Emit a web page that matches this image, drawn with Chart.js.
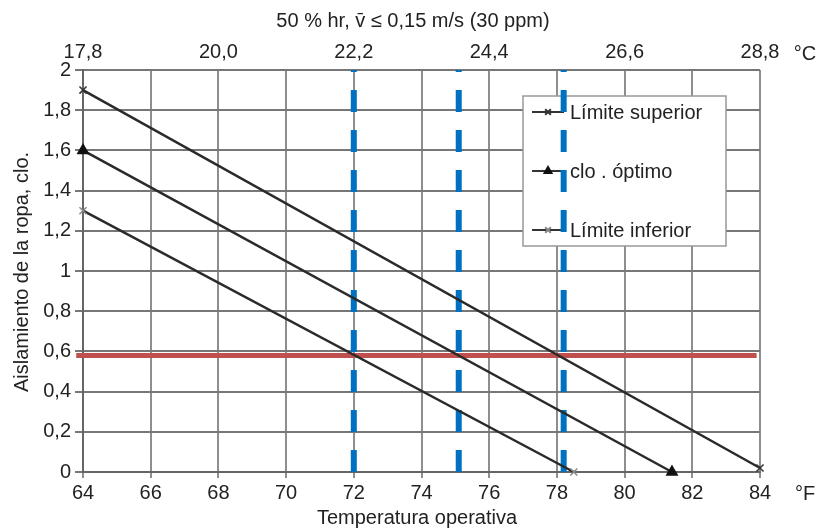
<!DOCTYPE html>
<html>
<head>
<meta charset="utf-8">
<script src="https://cdn.jsdelivr.net/npm/chart.js@4.4.1/dist/chart.umd.min.js"></script>
<style>
html, body { margin: 0; padding: 0; background: #fff; }
#wrap { width: 819px; height: 529px; }
</style>
</head>
<body>
<div id="wrap"><canvas id="c" width="819" height="529"></canvas></div>
<script>
// bottom axis (°F) and top axis (°C)
const fTicks = [64, 66, 68, 70, 72, 74, 76, 78, 80, 82, 84];
const cTickPos = [64, 68, 72, 76, 80, 84];
const cTickLabels = ['17,8', '20,0', '22,2', '24,4', '26,6', '28,8'];
const yTickLabels = ['0', '0,2', '0,4', '0,6', '0,8', '1', '1,2', '1,4', '1,6', '1,8', '2'];

// series
const supX = [64, 84],   supY = [1.9, 0.02];
const optX = [64, 81.4], optY = [1.6, 0];
const infX = [64, 78.5], infY = [1.3, 0];

// reference lines
const refClo = 0.58;
const refX = [63.8, 83.9];
const cutX = [72, 75.1, 78.2];
const cutY = [0, 2];

const FONT = "'Liberation Sans', Arial, sans-serif";
const TXT = '#222';

const pts = (xs, ys) => xs.map((x, i) => ({ x: x, y: ys[i] }));

const legendItems = [
    { label: 'Límite superior', style: 'crossRot', color: '#333' },
    { label: 'clo . óptimo', style: 'triangle', color: '#111' },
    { label: 'Límite inferior', style: 'crossRot', color: '#888' }
];

const boxLegend = {
    id: 'boxLegend',
    beforeDatasetsDraw(chart) {
        const ctx = chart.ctx;
        ctx.save();
        ctx.fillStyle = '#fff';
        ctx.fillRect(523, 96, 203, 150);
        ctx.strokeStyle = '#999';
        ctx.lineWidth = 1.5;
        ctx.strokeRect(523, 96, 203, 150);
        legendItems.forEach((it, i) => {
            const y = 112 + i * 59;
            ctx.strokeStyle = '#333';
            ctx.lineWidth = 2;
            ctx.beginPath();
            ctx.moveTo(532, y);
            ctx.lineTo(564, y);
            ctx.stroke();
            ctx.strokeStyle = it.color;
            ctx.fillStyle = it.color;
            Chart.helpers.drawPoint(ctx, { pointStyle: it.style, radius: 4, borderWidth: 1.5, rotation: 0 }, 548, y);
            ctx.fillStyle = TXT;
            ctx.font = '20px ' + FONT;
            ctx.textBaseline = 'middle';
            ctx.textAlign = 'left';
            ctx.fillText(it.label, 570, y + 1);
        });
        ctx.restore();
    }
};

const labels = {
    id: 'labels',
    afterDraw(chart) {
        const ctx = chart.ctx;
        ctx.save();
        ctx.fillStyle = TXT;
        ctx.font = '20px ' + FONT;
        ctx.textBaseline = 'middle';
        ctx.textAlign = 'center';
        ctx.fillText('50 % hr, v\u0304 \u2264 0,15 m/s (30 ppm)', 413, 21);
        ctx.fillText('Temperatura operativa', 417, 518);
        ctx.fillText('\u00B0C', 805, 54);
        ctx.fillText('\u00B0F', 805, 494);
        ctx.translate(22, 272);
        ctx.rotate(-Math.PI / 2);
        ctx.fillText('Aislamiento de la ropa, clo.', 0, 0);
        ctx.restore();
    }
};

new Chart(document.getElementById('c'), {
    type: 'line',
    data: {
        datasets: [
            { data: pts(supX, supY), borderColor: '#2a2a2a', borderWidth: 2.5, pointStyle: 'crossRot', pointRadius: 5, pointBorderColor: '#333', pointBorderWidth: 1.5, clip: false, order: 1 },
            { data: pts(optX, optY), borderColor: '#2a2a2a', borderWidth: 2.5, pointStyle: 'triangle', pointRadius: 5, pointBackgroundColor: '#111', pointBorderColor: '#111', clip: false, order: 1 },
            { data: pts(infX, infY), borderColor: '#2a2a2a', borderWidth: 2.5, pointStyle: 'crossRot', pointRadius: 5, pointBorderColor: '#888', pointBorderWidth: 1.5, clip: false, order: 1 },
            { data: pts(refX, refX.map(() => refClo)), borderColor: '#c0504d', borderWidth: 5, pointRadius: 0, clip: false, order: 2 },
            ...cutX.map(x => ({ data: pts(cutY.map(() => x), cutY), borderColor: '#0070c0', borderWidth: 6, borderDash: [22, 18], pointRadius: 0, order: 3 }))
        ]
    },
    options: {
        responsive: false,
        animation: false,
        layout: { padding: { right: 59 } },
        plugins: { legend: { display: false }, tooltip: { enabled: false } },
        scales: {
            x: {
                type: 'linear', position: 'bottom', min: 64, max: 84,
                afterBuildTicks: s => { s.ticks = fTicks.map(v => ({ value: v })); },
                afterFit: s => { s.height = 57; },
                ticks: { color: TXT, font: { family: FONT, size: 20 }, padding: 3, maxRotation: 0 },
                grid: { color: '#8e8e8e', lineWidth: 2, tickLength: 6 },
                border: { color: '#666', width: 2 }
            },
            x2: {
                type: 'linear', position: 'top', min: 64, max: 84,
                afterBuildTicks: s => { s.ticks = cTickPos.map(v => ({ value: v })); },
                afterFit: s => { s.height = 70; },
                ticks: { color: TXT, font: { family: FONT, size: 20 }, padding: 6, maxRotation: 0,
                    callback: (v, i) => cTickLabels[i] },
                grid: { display: false, drawTicks: false },
                border: { display: false }
            },
            y: {
                min: 0, max: 2,
                ticks: { stepSize: 0.2, color: TXT, font: { family: FONT, size: 20 }, padding: 4,
                    callback: (v, i) => yTickLabels[i] },
                afterFit: s => { s.width = 83; },
                grid: { color: '#777', lineWidth: 2, tickLength: 8 },
                border: { color: '#666', width: 2 }
            }
        }
    },
    plugins: [boxLegend, labels]
});
</script>
</body>
</html>
